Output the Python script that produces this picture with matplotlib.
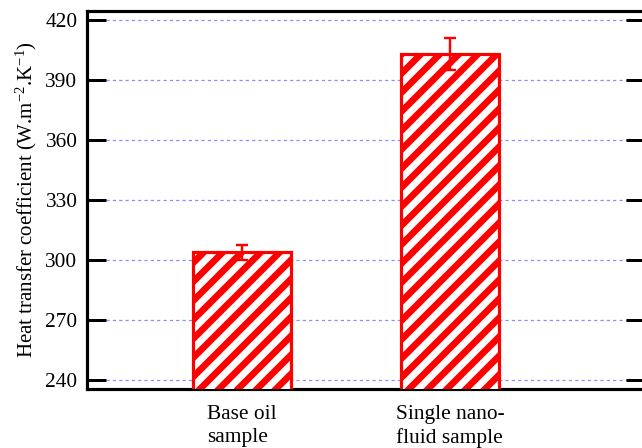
import matplotlib
matplotlib.use("Agg")
import matplotlib.pyplot as plt

categories = ["Base oil\nsample", "Single nano-\nfluid sample"]
values = [303.8, 403.0]
errors = [3.7, 8.0]
yticks = [240, 270, 300, 330, 360, 390, 420]

DPI = 114
plt.rcParams['font.family'] = ['Liberation Serif', 'DejaVu Serif']
plt.rcParams['mathtext.fontset'] = 'custom'
plt.rcParams['mathtext.rm'] = 'Liberation Serif'
plt.rcParams['mathtext.it'] = 'Liberation Serif:italic'
plt.rcParams['mathtext.bf'] = 'Liberation Serif:bold'
plt.rcParams['hatch.linewidth'] = 4.2
plt.rcParams['hatch.color'] = 'red'

fig = plt.figure(figsize=(642 / DPI, 448 / DPI), dpi=DPI)
ax = fig.add_axes([87 / 642, 59 / 448, (645 - 87) / 642, (389 - 11) / 448])

x = list(range(len(categories)))
ax.bar(x, values, width=0.47, color='white', edgecolor='red', linewidth=2.0,
       hatch='//', zorder=3)
ax.errorbar(x, values, yerr=errors, fmt='none', ecolor='red', elinewidth=1.5,
            capsize=3.5, capthick=1.5, zorder=4)

ax.set_xlim(-0.743, 1.933)
ax.set_ylim(235.5, 424.5)
ax.set_yticks(yticks)
ax.set_xticks(x)
ax.set_xticklabels(categories, fontsize=13.5, linespacing=1.3,
                   multialignment='left')
ax.tick_params(axis='x', length=0, pad=10)
ax.tick_params(axis='y', direction='in', length=12, width=1.9, labelsize=13.5,
               pad=6, right=True)
ax.grid(axis='y', color='#8c8cff', linestyle=(0, (2.5, 2.5)), linewidth=0.8,
        zorder=1)
ax.set_axisbelow(True)
for s in ax.spines.values():
    s.set_linewidth(2.0)

ax.set_ylabel(r'Heat transfer coefficient (W.m$^{-2}$.K$^{-1}$)', fontsize=13.2,
              labelpad=4)

fig.savefig('out.png', dpi=DPI)
